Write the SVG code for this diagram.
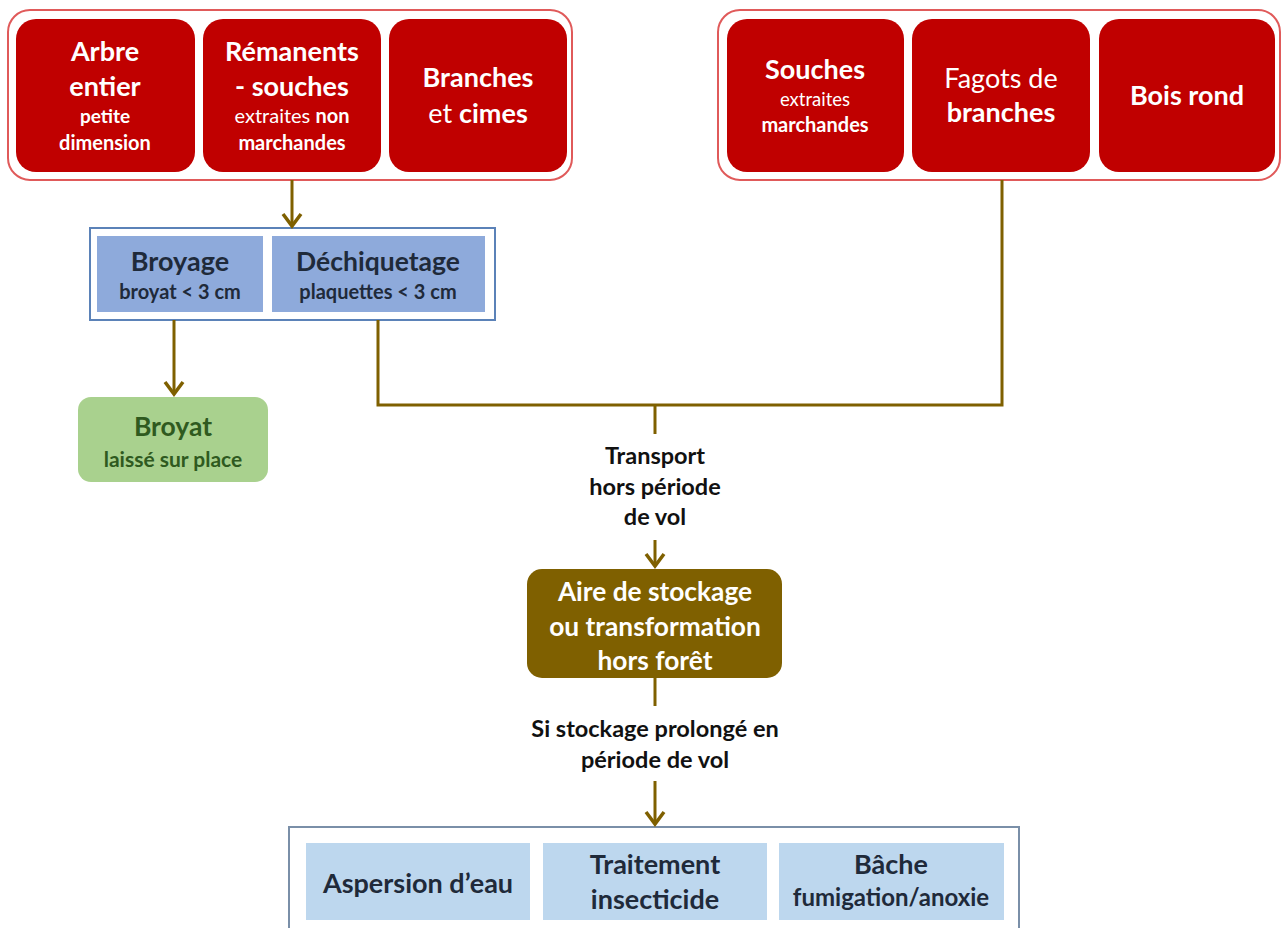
<svg xmlns="http://www.w3.org/2000/svg" width="1283" height="928" viewBox="0 0 1283 928">
<defs>
<style>
text{font-family:Lato,"Open Sans","Liberation Sans",sans-serif;text-anchor:middle}
.grp{fill:#fff;stroke:#e05a5a;stroke-width:2}
.red{fill:#c00000}
.w{fill:#fff}
.b{font-weight:bold}
.big{font-size:27px}
.sm{font-size:20px}
.bgrp{fill:#fff;stroke:#5b82b8;stroke-width:2}
.blue{fill:#8eaadb}
.lblue{fill:#bdd7ee}
.dk{fill:#1f2a3a}
.con{fill:none;stroke:#7f6000;stroke-width:3}
.head{fill:none;stroke:#7f6000;stroke-width:3.5;stroke-linejoin:miter}
.lbl{font-size:23.5px;font-weight:bold;fill:#111}
</style>
</defs>

<g id="groupe-gauche">
<rect class="grp" x="8" y="10" width="564" height="170" rx="22"/>
</g>
<g id="arbre-entier">
<rect class="red" x="16" y="19" width="179" height="153" rx="20"/>
<text class="w b big" x="105" y="61">Arbre</text>
<text class="w b big" x="105" y="96">entier</text>
<text class="w b" font-size="19" x="105" y="123">petite</text>
<text class="w b sm" x="105" y="150">dimension</text>
</g>
<g id="remanents-souches">
<rect class="red" x="203" y="19" width="178" height="153" rx="20"/>
<text class="w b big" x="292" y="61">Rémanents</text>
<text class="w b big" x="292" y="96">- souches</text>
<text class="w sm" x="292" y="123">extraites <tspan class="b">non</tspan></text>
<text class="w b sm" x="292" y="150">marchandes</text>
</g>
<g id="branches-cimes">
<rect class="red" x="389" y="19" width="178" height="153" rx="20"/>
<text class="w b big" x="478" y="87">Branches</text>
<text class="w big" x="478" y="123">et <tspan class="b">cimes</tspan></text>
</g>

<g id="groupe-droite">
<rect class="grp" x="718" y="10" width="562" height="170" rx="22"/>
</g>
<g id="souches">
<rect class="red" x="727" y="19" width="177" height="153" rx="20"/>
<text class="w b big" x="815" y="79">Souches</text>
<text class="w" font-size="18.5" x="815" y="106">extraites</text>
<text class="w b sm" x="815" y="132">marchandes</text>
</g>
<g id="fagots">
<rect class="red" x="912" y="19" width="178" height="153" rx="20"/>
<text class="w big" x="1001" y="88">Fagots de</text>
<text class="w b big" x="1001" y="122">branches</text>
</g>
<g id="bois-rond">
<rect class="red" x="1099" y="19" width="176" height="153" rx="20"/>
<text class="w b big" x="1187" y="105">Bois rond</text>
</g>

<g id="groupe-broyage">
<rect class="bgrp" x="90" y="228" width="405" height="92"/>
</g>
<g id="broyage">
<rect class="blue" x="97" y="236" width="166" height="76"/>
<text class="dk b big" x="180" y="271">Broyage</text>
<text class="dk b" font-size="20" x="180" y="299">broyat &lt; 3 cm</text>
</g>
<g id="dechiquetage">
<rect class="blue" x="272" y="236" width="213" height="76"/>
<text class="dk b" font-size="26.5" x="378" y="271">Déchiquetage</text>
<text class="dk b" font-size="20" x="378" y="299">plaquettes &lt; 3 cm</text>
</g>

<g id="broyat">
<rect fill="#a9d18e" x="78" y="397" width="190" height="85" rx="13"/>
<text class="b" font-size="26.5" fill="#2f5a1f" x="173" y="436">Broyat</text>
<text class="b" font-size="21" fill="#2f5a1f" x="173" y="467">laissé sur place</text>
</g>

<g id="aire-stockage">
<rect fill="#7f6000" x="527" y="569" width="255" height="109" rx="15"/>
<text class="w b" font-size="26.3" x="655" y="601">Aire de stockage</text>
<text class="w b" font-size="26.3" x="655" y="636">ou transformation</text>
<text class="w b" font-size="26.3" x="655" y="670">hors forêt</text>
</g>

<g id="groupe-traitements">
<rect fill="#fff" stroke="#7a8fa8" stroke-width="2" x="289" y="827" width="730" height="110"/>
</g>
<g id="aspersion">
<rect class="lblue" x="306" y="843" width="224" height="77"/>
<text class="dk b" font-size="27" x="418" y="893">Aspersion d’eau</text>
</g>
<g id="insecticide">
<rect class="lblue" x="543" y="843" width="224" height="77"/>
<text class="dk b" font-size="27" x="655" y="874">Traitement</text>
<text class="dk b" font-size="27" x="655" y="909">insecticide</text>
</g>
<g id="bache">
<rect class="lblue" x="779" y="843" width="225" height="77"/>
<text class="dk b" font-size="27" x="891" y="874">Bâche</text>
<text class="dk b" font-size="24" x="891" y="906">fumigation/anoxie</text>
</g>

<g id="connecteurs">
<path class="con" d="M292 180 V226"/>
<path class="head" d="M283 214 L292 226 L301 214"/>
<path class="con" d="M174 320 V394"/>
<path class="head" d="M165 382 L174 394 L183 382"/>
<path class="con" d="M378 320 V405 H1002 V180"/>
<path class="con" d="M655 405 V434"/>
<path class="con" d="M655 540 V566"/>
<path class="head" d="M646 554 L655 566 L664 554"/>
<path class="con" d="M655 678 V706"/>
<path class="con" d="M655 781 V824"/>
<path class="head" d="M646 812 L655 824 L664 812"/>
<text class="lbl" x="655" y="464">Transport</text>
<text class="lbl" x="655" y="495">hors période</text>
<text class="lbl" x="655" y="525">de vol</text>
<text class="lbl" font-size="24.5" x="655" y="737">Si stockage prolongé en</text>
<text class="lbl" font-size="24.5" x="655" y="768">période de vol</text>
</g>
</svg>
